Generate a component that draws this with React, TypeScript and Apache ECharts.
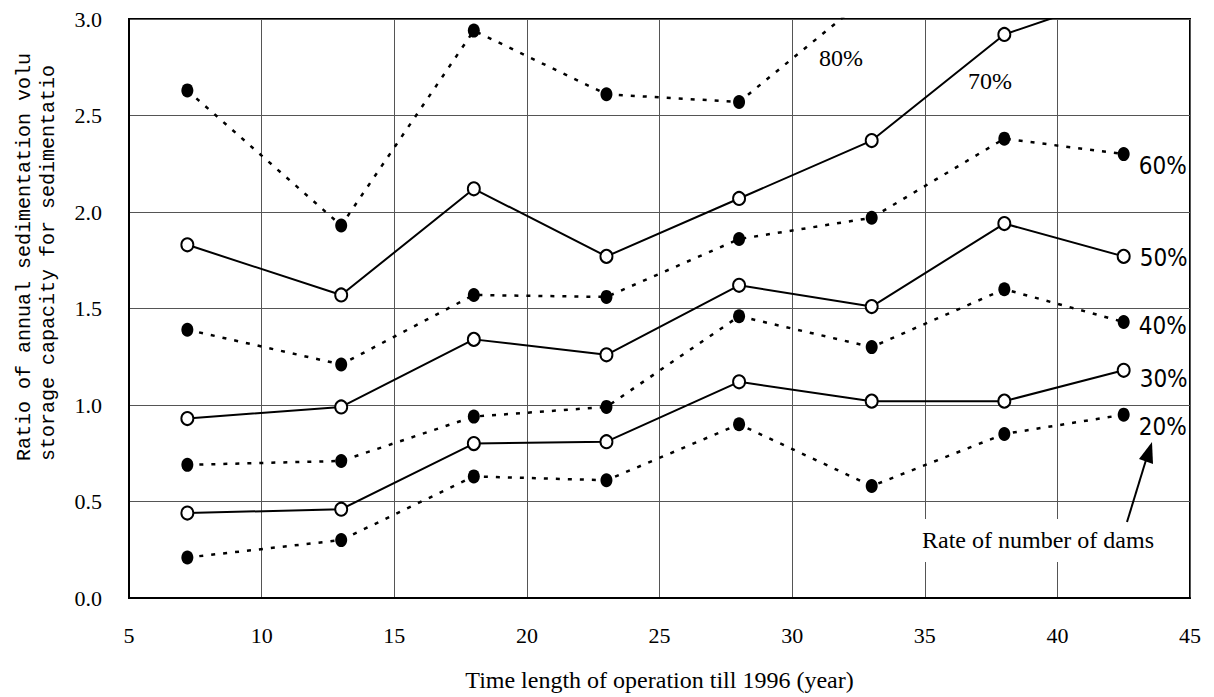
import React, { useEffect, useRef } from "react";
import * as echarts from "echarts";

// ---- data ----
const xValues = [7.2, 13, 18, 23, 28, 33, 38, 42.5];
const s80 = [2.63, 1.93, 2.94, 2.61, 2.57, 3.13];
const s70 = [1.83, 1.57, 2.12, 1.77, 2.07, 2.37, 2.92, 3.13];
const s60 = [1.39, 1.21, 1.57, 1.56, 1.86, 1.97, 2.38, 2.3];
const s50 = [0.93, 0.99, 1.34, 1.26, 1.62, 1.51, 1.94, 1.77];
const s40 = [0.69, 0.71, 0.94, 0.99, 1.46, 1.3, 1.6, 1.43];
const s30 = [0.44, 0.46, 0.8, 0.81, 1.12, 1.02, 1.02, 1.18];
const s20 = [0.21, 0.3, 0.63, 0.61, 0.9, 0.58, 0.85, 0.95];

const seriesNames = ["80%", "70%", "60%", "50%", "40%", "30%", "20%"];
const seriesValues = [s80, s70, s60, s50, s40, s30, s20];
const filledMarker = [true, false, true, false, true, false, true];
const endLabelShown = [false, false, true, true, true, true, true];
const endLabelDy = [0, 0, 12, 2, 4, 9, 12];

const xAxisTitle = "Time length of operation till 1996 (year)";
const yAxisTitle1 = "Ratio of annual sedimentation volu";
const yAxisTitle2 = "storage capacity for sedimentatio";
const annotation = "Rate of number of dams";

const SERIF = "'Liberation Serif', 'Times New Roman', serif";
const NARROW = "'Liberation Sans Narrow', 'DejaVu Sans Condensed', 'Arial Narrow', sans-serif";
const MONO = "'Liberation Mono', 'DejaVu Sans Mono', monospace";

export default function App() {
  const ref = useRef<HTMLDivElement>(null);

  useEffect(() => {
    if (!ref.current) return;
    const chart = echarts.init(ref.current, undefined, { renderer: "svg" });

    const series = seriesValues.map((vals, si) => {
      const filled = filledMarker[si];
      const data = vals.map((v, i) => {
        const pt = [xValues[i], v];
        if (i === vals.length - 1 && endLabelShown[si]) {
          return {
            value: pt,
            label: {
              show: true,
              position: "right",
              distance: 9,
              offset: [0, endLabelDy[si]],
              formatter: seriesNames[si],
              fontFamily: NARROW,
              fontSize: 24,
              color: "#000",
            },
          };
        }
        return pt;
      });
      return {
        name: seriesNames[si],
        type: "line",
        data,
        clip: true,
        symbol: "circle",
        symbolSize: filled ? [12, 14] : [12, 13],
        showSymbol: true,
        itemStyle: filled
          ? { color: "#000", borderColor: "#000", borderWidth: 0 }
          : { color: "#fff", borderColor: "#000", borderWidth: 2 },
        lineStyle: filled
          ? { color: "#000", width: 2.5, type: [4, 8] }
          : { color: "#000", width: 2, type: "solid" },
        z: filled ? 3 : 4,
      };
    });

    chart.setOption({
      animation: false,
      backgroundColor: "#fff",
      grid: {
        left: 129,
        right: 24,
        top: 19,
        bottom: 97,
        show: true,
        borderColor: "#000",
        borderWidth: 2,
        backgroundColor: "transparent",
      },
      xAxis: {
        type: "value",
        min: 5,
        max: 45,
        interval: 5,
        axisLine: { show: true, lineStyle: { color: "#000", width: 2 } },
        axisTick: { show: false },
        splitLine: { show: true, lineStyle: { color: "#555", width: 1 } },
        axisLabel: {
          color: "#000",
          fontFamily: SERIF,
          fontSize: 22,
          margin: 26,
        },
        name: xAxisTitle,
        nameLocation: "middle",
        nameGap: 70,
        nameTextStyle: { color: "#000", fontFamily: SERIF, fontSize: 24 },
      },
      yAxis: {
        type: "value",
        min: 0,
        max: 3,
        interval: 0.5,
        axisLine: { show: true, lineStyle: { color: "#000", width: 2 } },
        axisTick: { show: false },
        splitLine: { show: true, lineStyle: { color: "#555", width: 1 } },
        axisLabel: {
          color: "#000",
          fontFamily: SERIF,
          fontSize: 22,
          margin: 27,
          formatter: (v: number) => v.toFixed(1),
        },
      },
      series,
      graphic: [
        {
          type: "text",
          x: 24,
          y: 461,
          rotation: Math.PI / 2,
          z: 100,
          style: {
            text: yAxisTitle1,
            fontFamily: MONO,
            fontSize: 20,
            fill: "#000",
            textAlign: "left",
            textVerticalAlign: "middle",
          },
        },
        {
          type: "text",
          x: 48,
          y: 461,
          rotation: Math.PI / 2,
          z: 100,
          style: {
            text: yAxisTitle2,
            fontFamily: MONO,
            fontSize: 20,
            fill: "#000",
            textAlign: "left",
            textVerticalAlign: "middle",
          },
        },
        {
          type: "text",
          x: 841,
          y: 58,
          z: 100,
          style: {
            text: "80%",
            fontFamily: SERIF,
            fontSize: 24,
            fill: "#000",
            textAlign: "center",
            textVerticalAlign: "middle",
          },
        },
        {
          type: "text",
          x: 990,
          y: 81,
          z: 100,
          style: {
            text: "70%",
            fontFamily: SERIF,
            fontSize: 24,
            fill: "#000",
            textAlign: "center",
            textVerticalAlign: "middle",
          },
        },
        {
          type: "rect",
          z: 100,
          shape: { x: 905, y: 519, width: 264, height: 43 },
          style: { fill: "#fff" },
        },
        {
          type: "text",
          x: 1038,
          y: 540,
          z: 101,
          style: {
            text: annotation,
            fontFamily: SERIF,
            fontSize: 24,
            fill: "#000",
            textAlign: "center",
            textVerticalAlign: "middle",
          },
        },
        {
          type: "line",
          z: 101,
          shape: { x1: 1127, y1: 522, x2: 1146, y2: 460 },
          style: { stroke: "#000", lineWidth: 2 },
        },
        {
          type: "polygon",
          z: 101,
          shape: {
            points: [
              [1152, 442],
              [1153, 464],
              [1139, 459],
            ],
          },
          style: { fill: "#000" },
        },
      ],
    });

    return () => chart.dispose();
  }, []);

  return (
    <div
      ref={ref}
      style={{ position: "fixed", left: 0, top: 0, width: 1214, height: 697, background: "#fff" }}
    />
  );
}
